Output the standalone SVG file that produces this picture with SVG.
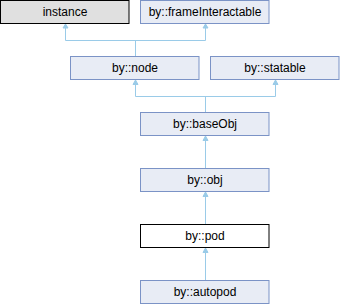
<svg xmlns="http://www.w3.org/2000/svg" width="340" height="304" viewBox="0 0 340 304">
<defs>
<style>
.n rect{fill:#e8ecf5;stroke:#7b93c6;stroke-width:1}
.n text{font-family:"Liberation Sans",Arial,sans-serif;font-size:12px;fill:#000;text-anchor:middle}
#instance rect{fill:#e0e0e0;stroke:#000}
#pod rect{fill:#fff;stroke:#000}
.e path{fill:none;stroke:#9acbe8;stroke-width:1}
.e polygon{fill:#9acbe8;stroke:#9acbe8;stroke-width:1}
</style>
</defs>
<rect width="340" height="304" fill="#fff"/>
<g class="e" id="edges">
<path d="M65.5,28 V40.5 H205.5 V28"/>
<path d="M135.5,40.5 V56"/>
<polygon points="65.5,24 63,28 68,28"/>
<polygon points="205.5,24 203,28 208,28"/>
<path d="M135.5,85 V96.5 H275.5 V85"/>
<path d="M205.5,96.5 V112"/>
<polygon points="135.5,80 133,84.5 138,84.5"/>
<polygon points="275.5,80 273,84.5 278,84.5"/>
<path d="M205.5,141 V168"/>
<polygon points="205.5,136 203,140.5 208,140.5"/>
<path d="M205.5,197 V224"/>
<polygon points="205.5,192 203,196.5 208,196.5"/>
<path d="M205.5,253 V280"/>
<polygon points="205.5,248 203,252.5 208,252.5"/>
</g>
<g class="n" id="instance"><rect x="0.5" y="0.5" width="128.5" height="23"/><text x="65" y="16">instance</text></g>
<g class="n" id="frameInteractable"><rect x="140.5" y="0.5" width="128.5" height="23"/><text x="205" y="16">by::frameInteractable</text></g>
<g class="n" id="node"><rect x="70.5" y="56.5" width="128.5" height="23"/><text x="135" y="72">by::node</text></g>
<g class="n" id="statable"><rect x="210.5" y="56.5" width="128.5" height="23"/><text x="275" y="72">by::statable</text></g>
<g class="n" id="baseObj"><rect x="140.5" y="112.5" width="128.5" height="23"/><text x="205" y="128">by::baseObj</text></g>
<g class="n" id="obj"><rect x="140.5" y="168.5" width="128.5" height="23"/><text x="205" y="184">by::obj</text></g>
<g class="n" id="pod"><rect x="140.5" y="224.5" width="128.5" height="23"/><text x="205" y="240">by::pod</text></g>
<g class="n" id="autopod"><rect x="140.5" y="280.5" width="128.5" height="23"/><text x="205" y="296">by::autopod</text></g>
</svg>
